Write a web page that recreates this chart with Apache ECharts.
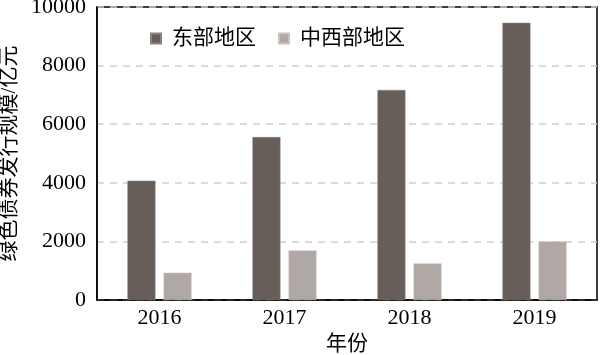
<!DOCTYPE html>
<html>
<head>
    <meta charset="utf-8">
    <title>绿色债券发行规模</title>
    <script src="https://cdn.jsdelivr.net/npm/echarts@6/dist/echarts.min.js"></script>
    <style>
        html, body { margin: 0; padding: 0; background: #fff; }
    </style>
</head>
<body>
<div id="main" style="width:600px; height:355px;"></div>
<script type="text/javascript">
    // 数据
    var years = ['2016', '2017', '2018', '2019'];
    var eastData = [4070, 5560, 7170, 9460];      // 东部地区
    var midWestData = [930, 1690, 1250, 2000];    // 中西部地区

    var fontFamily = '"Liberation Serif", "Noto Sans CJK SC", serif';

    var myChart = echarts.init(document.getElementById('main'));
    var option = {
        backgroundColor: '#fff',
        animation: false,
        textStyle: { fontFamily: fontFamily, color: '#000' },
        grid: {
            left: 97, right: 3, top: 7, bottom: 55,
            outerBoundsMode: 'none',
            containLabel: false,
            show: true,
            borderColor: '#000',
            borderWidth: 1.5
        },
        legend: {
            top: 23,
            left: 145,
            itemWidth: 10,
            itemHeight: 10,
            itemGap: 22,
            icon: 'rect',
            textStyle: { fontSize: 21, fontFamily: fontFamily, color: '#000', padding: [0, 0, 0, 6] },
            data: ['东部地区', '中西部地区']
        },
        xAxis: {
            type: 'category',
            data: years,
            name: '年份',
            nameLocation: 'middle',
            nameGap: 32,
            nameTextStyle: { fontSize: 21, fontFamily: fontFamily, color: '#000' },
            axisLine: { lineStyle: { color: '#000', width: 1.5 } },
            axisTick: { show: false },
            axisLabel: { fontSize: 22, color: '#000', margin: 7, fontFamily: fontFamily }
        },
        yAxis: {
            type: 'value',
            min: 0,
            max: 10000,
            interval: 2000,
            name: '绿色债券发行规模/亿元',
            nameLocation: 'middle',
            nameGap: 82,
            nameRotate: 90,
            nameTextStyle: {
                fontSize: 21, fontFamily: fontFamily, color: '#000',
                align: 'center', verticalAlign: 'middle'
            },
            axisLine: { show: true, lineStyle: { color: '#000', width: 1.5 } },
            axisTick: { show: false },
            axisLabel: {
                fontSize: 22, color: '#000', margin: 11, fontFamily: fontFamily,
                formatter: function (v) { return String(v); }
            },
            splitLine: {
                show: true,
                lineStyle: { color: '#d2cdcb', type: [7, 6], width: 1.5 }
            }
        },
        series: [
            {
                name: '东部地区',
                type: 'bar',
                data: eastData,
                barWidth: 28,
                barGap: '29%',
                itemStyle: { color: '#675e5a', borderColor: '#8a827e', borderWidth: 0.5 }
            },
            {
                name: '中西部地区',
                type: 'bar',
                data: midWestData,
                barWidth: 28,
                itemStyle: { color: '#b0a8a4', borderColor: '#c8c2bf', borderWidth: 0.5 }
            }
        ]
    };
    myChart.setOption(option);
</script>
</body>
</html>
